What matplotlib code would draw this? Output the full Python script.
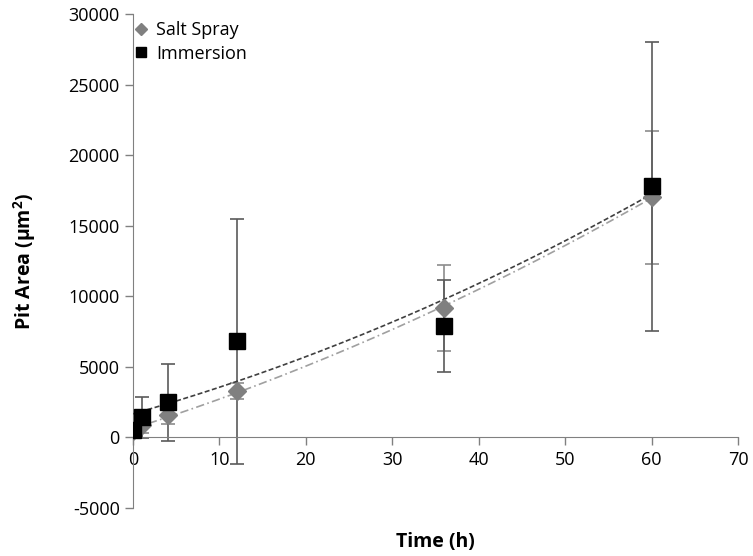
import numpy as np
import matplotlib
matplotlib.use("Agg")
import matplotlib.pyplot as plt

plt.rcParams['font.family'] = ['Open Sans', 'DejaVu Sans']
plt.rcParams['axes.unicode_minus'] = False

time_h = [0, 1, 4, 12, 36, 60]
salt_spray = [450, 850, 1560, 3300, 9200, 17000]
salt_spray_err = [300, 500, 600, 580, 3050, 4700]
immersion = [500, 1420, 2480, 6800, 7900, 17800]
immersion_err = [400, 1480, 2700, 8650, 3250, 10250]

fig = plt.figure(figsize=(7.53, 5.56), dpi=100)
ax = fig.add_axes([0.1766, 0.0863, 0.8035, 0.8885])

ax.errorbar(time_h, salt_spray, yerr=salt_spray_err, fmt='none',
            ecolor='#8c8c8c', elinewidth=1.2, capsize=5, capthick=1.2, zorder=2)
ax.errorbar(time_h, immersion, yerr=immersion_err, fmt='none',
            ecolor='#5a5a5a', elinewidth=1.2, capsize=5, capthick=1.2, zorder=2)

# quadratic trend lines, as in the spreadsheet
tt = np.linspace(0, 60, 200)
p_salt = np.poly1d(np.polyfit(time_h, salt_spray, 2))
p_imm = np.poly1d(np.polyfit(time_h, immersion, 2))
ax.plot(tt, p_imm(tt), color='#404040', lw=1.2, ls=(0, (3, 1.5)), zorder=3)
ax.plot(tt, p_salt(tt), color='#a0a0a0', lw=1.2, ls=(0, (5, 2, 1, 2)), zorder=3)

ax.plot(time_h, salt_spray, 'D', color='#808080', ms=9, label='Salt Spray', zorder=4)
ax.plot(time_h, immersion, 's', color='black', ms=11, label='Immersion', zorder=5)

ax.set_xlim(0, 70)
ax.set_ylim(-5000, 30000)
ax.set_xticks(range(0, 71, 10))
ax.set_yticks(range(-5000, 30001, 5000))

for s in ['top', 'right']:
    ax.spines[s].set_visible(False)
ax.spines['bottom'].set_position(('data', 0))
ax.spines['bottom'].set_color('#808080')
ax.spines['left'].set_color('#808080')
ax.tick_params(axis='both', colors='#808080', labelcolor='black', labelsize=13,
               length=6, width=1)

ax.set_xlabel('Time (h)', fontsize=14, fontweight='bold')
ax.xaxis.set_label_coords(0.5, -0.048)
ax.set_ylabel('Pit Area ($\\mathregular{\\mu m^2}$)', fontsize=14, fontweight='bold')
ax.yaxis.set_label_coords(-0.157, 0.5)

leg = ax.legend(loc='upper left', bbox_to_anchor=(-0.022, 1.018), frameon=False,
                fontsize=13, handlelength=0.6, handletextpad=0.5, markerscale=0.7,
                labelspacing=0.3)

fig.savefig('out.png', dpi=100)
